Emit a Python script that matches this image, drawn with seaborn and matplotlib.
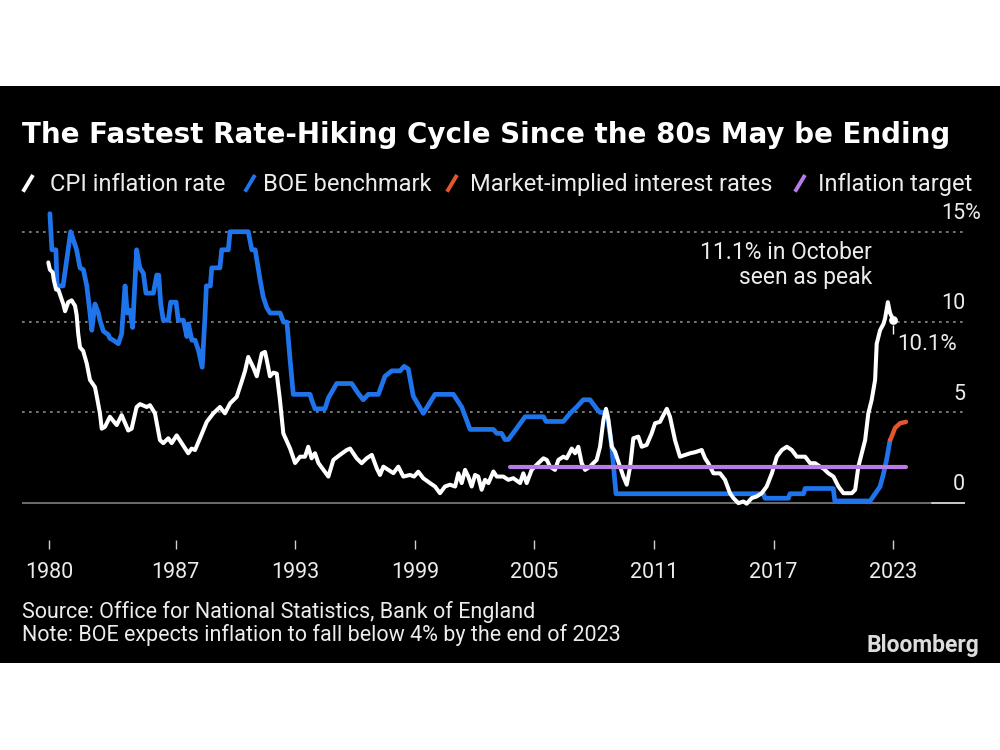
import numpy as np
import pandas as pd
import matplotlib
matplotlib.use("Agg")
import matplotlib.pyplot as plt
import matplotlib.transforms as mtransforms
from matplotlib.lines import Line2D
from matplotlib.patches import Rectangle
import seaborn as sns

# ---------------- data ----------------
cpi_year = [
    1980.61, 1980.69, 1980.83, 1980.89, 1981.00, 1981.11, 1981.36, 1981.45, 1981.61, 1981.78,
    1981.95, 1982.03, 1982.11, 1982.20, 1982.36, 1982.54, 1982.70, 1982.95, 1983.04, 1983.20,
    1983.29, 1983.45, 1983.70, 1984.04, 1984.29, 1984.62, 1984.79, 1985.04, 1985.21, 1985.55,
    1985.71, 1985.96, 1986.21, 1986.38, 1986.63, 1986.80, 1987.05, 1987.30, 1987.63, 1987.80,
    1987.97, 1988.22, 1988.56, 1988.89, 1989.22, 1989.47, 1989.73, 1990.06, 1990.31, 1990.48,
    1990.64, 1990.89, 1991.07, 1991.23, 1991.32, 1991.48, 1991.57, 1991.73, 1991.90, 1992.07,
    1992.23, 1992.40, 1992.74, 1992.99, 1993.24, 1993.49, 1993.65, 1993.82, 1993.99, 1994.16,
    1994.41, 1994.66, 1994.91, 1995.24, 1995.58, 1995.75, 1995.91, 1996.08, 1996.33, 1996.58,
    1996.84, 1997.09, 1997.25, 1997.42, 1997.67, 1997.92, 1998.17, 1998.42, 1998.76, 1998.96,
    1999.17, 1999.42, 1999.76, 2000.01, 2000.26, 2000.51, 2000.76, 2001.02, 2001.18, 2001.35,
    2001.52, 2001.68, 2001.85, 2002.02, 2002.18, 2002.35, 2002.52, 2002.69, 2002.94, 2003.11,
    2003.44, 2003.69, 2003.94, 2004.28, 2004.44, 2004.61, 2004.86, 2005.19, 2005.45, 2005.62,
    2005.78, 2006.03, 2006.20, 2006.45, 2006.62, 2006.87, 2007.04, 2007.20, 2007.37, 2007.54,
    2007.79, 2007.95, 2008.12, 2008.29, 2008.46, 2008.59, 2008.71, 2008.88, 2009.04, 2009.29,
    2009.46, 2009.63, 2009.80, 2009.96, 2010.21, 2010.38, 2010.63, 2010.88, 2011.05, 2011.30,
    2011.47, 2011.64, 2011.80, 2012.05, 2012.30, 2012.56, 2012.81, 2013.06, 2013.39, 2013.56,
    2013.72, 2013.98, 2014.31, 2014.56, 2014.81, 2014.98, 2015.23, 2015.48, 2015.65, 2015.90,
    2016.15, 2016.40, 2016.65, 2016.91, 2017.16, 2017.41, 2017.66, 2017.91, 2018.16, 2018.58,
    2018.83, 2019.08, 2019.33, 2019.49, 2019.75, 2020.00, 2020.25, 2020.50, 2020.75, 2020.92,
    2021.09, 2021.25, 2021.42, 2021.59, 2021.75, 2021.92, 2022.09, 2022.17, 2022.34, 2022.51,
    2022.59, 2022.73, 2022.84, 2023.01,
]
cpi_value = [
    13.3, 12.9, 12.75, 12.3, 11.8, 11.8, 11.0, 10.6, 11.1, 11.2,
    10.9, 10.4, 9.35, 8.6, 8.4, 7.7, 6.8, 6.4, 5.9, 4.95,
    4.1, 4.2, 4.76, 4.3, 4.85, 4.0, 4.1, 5.3, 5.46, 5.3,
    5.4, 4.95, 3.47, 3.3, 3.57, 3.3, 3.73, 3.3, 2.74, 3.0,
    2.92, 3.57, 4.48, 4.95, 5.3, 4.95, 5.5, 5.86, 6.7, 7.3,
    8.07, 7.5, 7.0, 7.8, 8.26, 8.35, 7.9, 7.0, 7.2, 7.15,
    5.7, 3.84, 3.0, 2.2, 2.55, 2.55, 3.1, 2.46, 2.74, 2.2,
    1.82, 1.45, 2.37, 2.65, 2.92, 3.0, 2.74, 2.46, 2.19, 2.46,
    2.65, 1.9, 1.54, 2.0, 1.82, 1.64, 2.0, 1.45, 1.54, 1.45,
    1.72, 1.36, 1.09, 0.9, 0.53, 0.9, 1.0, 0.9, 1.63, 1.09,
    1.82, 1.45, 0.9, 1.54, 1.45, 0.72, 1.27, 1.09, 1.73, 1.45,
    1.45, 1.27, 1.36, 1.09, 1.63, 1.09, 1.82, 2.19, 2.46, 2.37,
    2.0, 1.82, 2.37, 2.55, 2.46, 3.0, 2.74, 3.1, 2.19, 1.82,
    2.0, 2.19, 2.37, 3.1, 4.58, 5.2, 4.58, 3.1, 2.83, 2.0,
    1.45, 1.0, 2.0, 3.57, 3.66, 3.1, 3.2, 3.84, 4.4, 4.48,
    4.85, 5.2, 4.76, 3.47, 2.55, 2.65, 2.74, 2.8, 2.92, 2.46,
    2.19, 1.63, 1.63, 1.27, 0.53, 0.26, -0.02, 0.07, -0.05, 0.26,
    0.35, 0.53, 0.9, 1.63, 2.55, 2.92, 3.1, 2.92, 2.55, 2.55,
    2.19, 2.19, 2.0, 1.9, 1.63, 1.45, 0.9, 0.53, 0.53, 0.53,
    0.72, 2.0, 2.74, 3.47, 4.95, 5.7, 6.8, 8.8, 9.55, 9.9,
    10.2, 11.1, 10.5, 10.1,
]

boe_year = [
    1980.69, 1980.79, 1980.99, 1981.05, 1981.35, 1981.73, 1982.03, 1982.20, 1982.37, 1982.54,
    1982.70, 1982.79, 1982.95, 1983.12, 1983.20, 1983.37, 1983.62, 1983.70, 1983.87, 1984.12,
    1984.29, 1984.46, 1984.57, 1984.71, 1984.84, 1985.04, 1985.20, 1985.38, 1985.51, 1985.88,
    1986.05, 1986.15, 1986.25, 1986.38, 1986.63, 1986.75, 1987.02, 1987.13, 1987.39, 1987.56,
    1987.64, 1987.81, 1987.97, 1988.14, 1988.33, 1988.47, 1988.54, 1988.74, 1988.81, 1989.22,
    1989.31, 1989.64, 1989.73, 1990.64, 1990.82, 1990.99, 1991.24, 1991.39, 1991.57, 1991.74,
    1992.24, 1992.41, 1992.58, 1992.74, 1992.90, 1993.74, 1993.82, 1993.99, 1994.49, 1994.66,
    1995.08, 1995.83, 1996.16, 1996.41, 1996.66, 1997.17, 1997.50, 1997.84, 1998.26, 1998.46,
    1998.67, 1998.92, 1999.42, 2000.01, 2000.93, 2001.35, 2001.77, 2002.94, 2003.11, 2003.35,
    2003.52, 2003.69, 2004.03, 2004.53, 2005.45, 2005.58, 2006.45, 2006.79, 2007.12, 2007.45,
    2007.79, 2008.12, 2008.29, 2008.63, 2008.88, 2009.09, 2016.48, 2016.57, 2017.74, 2017.82,
    2018.50, 2018.58, 2019.99, 2020.07, 2021.84, 2022.09, 2022.34, 2022.51, 2022.67, 2022.84,
]
boe_value = [
    16.0, 14.0, 14.0, 12.0, 12.0, 15.0, 14.0, 13.0, 12.9, 12.0,
    10.5, 9.55, 11.0, 10.5, 10.1, 9.5, 9.3, 9.1, 9.0, 8.8,
    9.35, 12.0, 10.5, 10.65, 9.7, 14.0, 13.0, 12.7, 11.6, 11.6,
    12.6, 12.6, 11.0, 10.1, 10.1, 11.1, 11.1, 10.1, 10.1, 9.2,
    9.9, 9.0, 9.0, 8.45, 7.5, 10.3, 12.0, 12.0, 13.0, 13.0,
    14.0, 14.0, 15.0, 15.0, 14.0, 14.0, 12.3, 11.4, 10.8, 10.5,
    10.5, 10.0, 10.0, 7.9, 6.0, 6.0, 5.7, 5.2, 5.2, 5.8,
    6.6, 6.6, 6.05, 5.7, 6.0, 6.0, 7.0, 7.3, 7.3, 7.55,
    7.4, 5.9, 4.95, 6.0, 6.0, 5.3, 4.06, 4.06, 3.84, 3.84,
    3.5, 3.5, 4.0, 4.76, 4.76, 4.5, 4.5, 4.95, 5.3, 5.7,
    5.7, 5.2, 5.0, 5.0, 3.1, 0.5, 0.5, 0.25, 0.25, 0.5,
    0.5, 0.79, 0.79, 0.1, 0.1, 0.5, 0.9, 1.6, 2.4, 3.47,
]

market_year = [2022.84, 2022.89, 2023.09, 2023.34, 2023.64]
market_value = [3.47, 3.58, 4.14, 4.40, 4.48]

target_year = [2003.77, 2023.64]
target_value = [2.0, 2.0]

x_tick_pos = [1980.66, 1987, 1993, 1999, 2005, 2011, 2017, 2023]
x_tick_labels = ["1980", "1987", "1993", "1999", "2005", "2011", "2017", "2023"]
y_grid = [5, 10, 15]
y_label_pos = [0, 5, 10, 15]
y_label_text = ["0", "5", "10", "15"]

title = "The Fastest Rate-Hiking Cycle Since the 80s May be Ending"
legend_labels = ["CPI inflation rate", "BOE benchmark",
                 "Market-implied interest rates", "Inflation target"]
source_text = "Source: Office for National Statistics, Bank of England"
note_text = "Note: BOE expects inflation to fall below 4% by the end of 2023"

# ---------------- style ----------------
WHITE = "#ffffff"
BLUE = "#1f74ec"
ORANGE = "#e4572e"
PURPLE = "#b77be6"
TEXT = "#ececec"
GRID = "#8a8a8a"
colors = [WHITE, BLUE, ORANGE, PURPLE]

sns.set_theme(style="dark")
plt.rcParams['font.family'] = ['Roboto', 'DejaVu Sans']

W, H = 1000, 750
fig = plt.figure(figsize=(10, 7.5), dpi=100, facecolor="white")


def fx(px):
    return px / W


def fy(py):
    return 1 - py / H


fig.patches.append(Rectangle((0, fy(662.7)), 1, (662.7 - 85.7) / H,
                             transform=fig.transFigure, facecolor="black",
                             edgecolor="none", zorder=-10))

ax = fig.add_axes([fx(22), fy(540), (965 - 22) / W, (540 - 207.5) / H])
ax.set_facecolor("none")
for s in ax.spines.values():
    s.set_visible(False)
ax.grid(False)

# grid + baseline
for v in y_grid:
    ax.axhline(v, color=GRID, lw=1.2, ls=(0, (1.6, 2.6)), zorder=1)
split = (932 - 22) / (965 - 22)
ax.axhline(0, xmax=split, color=GRID, lw=1.1, zorder=1)
ax.axhline(0, xmin=split, color=WHITE, lw=1.1, zorder=1)

# series
cpi_df = pd.DataFrame({"year": cpi_year, "value": cpi_value})
boe_df = pd.DataFrame({"year": boe_year, "value": boe_value})
mkt_df = pd.DataFrame({"year": market_year, "value": market_value})
tgt_df = pd.DataFrame({"year": target_year, "value": target_value})

sns.lineplot(data=boe_df, x="year", y="value", ax=ax, color=BLUE, lw=3.4,
             sort=False, estimator=None, zorder=3, solid_joinstyle="round")
sns.lineplot(data=cpi_df, x="year", y="value", ax=ax, color=WHITE, lw=2.9,
             sort=False, estimator=None, zorder=4, solid_joinstyle="round")
sns.lineplot(data=mkt_df, x="year", y="value", ax=ax, color=ORANGE, lw=3.2,
             sort=False, estimator=None, zorder=5, solid_capstyle="round")
sns.lineplot(data=tgt_df, x="year", y="value", ax=ax, color=PURPLE, lw=3.0,
             sort=False, estimator=None, zorder=6, solid_capstyle="round")

# last CPI point dot + label
ax.scatter([cpi_year[-1]], [cpi_value[-1]], s=40, color=WHITE, zorder=7, linewidths=0)
ax.vlines(cpi_year[-1], 9.35, 9.85, color=WHITE, lw=1.0, zorder=7)
ax.text(2023.19, 8.48, "10.1%", color=TEXT, fontsize=16, ha="left", va="baseline")

ax.text(2021.94, 13.49, "11.1% in October", color=TEXT, fontsize=16.5,
        ha="right", va="baseline")
ax.text(2021.94, 12.10, "seen as peak", color=TEXT, fontsize=16.5,
        ha="right", va="baseline")

# axes ranges / ticks
ax.set_xlim(1979.29, 2026.60)
ax.set_ylim(-2.06, 16.34)
ax.set_xticks(x_tick_pos)
ax.set_xticklabels(x_tick_labels)
ax.set_yticks([])
ax.set_xlabel("")
ax.set_ylabel("")
ax.tick_params(axis="x", bottom=True, direction="out", length=6.5, width=1.0,
               color="#cfcfcf", pad=9, labelsize=15.5, labelcolor=TEXT)

# right-side value labels
off = mtransforms.ScaledTranslation(0, 12.7 / 100, fig.dpi_scale_trans)
ytrans = mtransforms.blended_transform_factory(ax.transAxes, ax.transData) + off
for v, lab in zip(y_label_pos, y_label_text):
    ax.text(1.0, v, lab, transform=ytrans, ha="right", va="baseline",
            fontsize=15.5, color=TEXT)
ax.text(1.0, y_label_pos[-1], "%", transform=ytrans, ha="left", va="baseline",
        fontsize=15.5, color=TEXT)

# title
fig.text(fx(22), fy(143), title, color=WHITE, fontsize=20, fontweight="bold",
         family=["DejaVu Sans"], ha="left", va="baseline")

# legend
slash_x = [23, 245, 447, 795]
text_x = [50, 263, 470, 818]
for sx, tx, c, lab in zip(slash_x, text_x, colors, legend_labels):
    fig.add_artist(Line2D([fx(sx), fx(sx + 10)], [fy(191.7), fy(175)],
                          transform=fig.transFigure, color=c, lw=2.8,
                          solid_capstyle="butt"))
    fig.text(fx(tx), fy(190.7), lab, color=TEXT, fontsize=17,
             ha="left", va="baseline")

# footer
fig.text(fx(22), fy(618), source_text, color=TEXT, fontsize=15.5,
         ha="left", va="baseline")
fig.text(fx(22), fy(641.5), note_text, color=TEXT, fontsize=15.5,
         ha="left", va="baseline")
fig.text(fx(979), fy(652), "Bloomberg", color="#dcdcdc", fontsize=16.5,
         fontweight="bold", ha="right", va="baseline")

fig.savefig("out.png", dpi=100, facecolor="white")
